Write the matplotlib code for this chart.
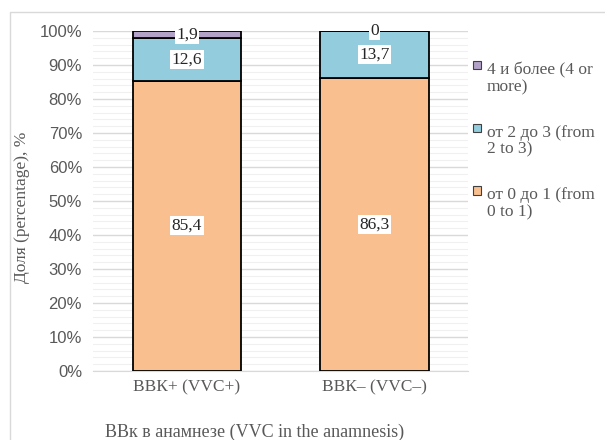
import matplotlib.pyplot as plt
from matplotlib.patches import Rectangle
from matplotlib.ticker import MultipleLocator, PercentFormatter

plt.rcParams['font.family'] = ['Liberation Serif', 'DejaVu Serif']

groups = ["ВВК+ (VVC+)", "ВВК– (VVC–)"]
low = [85.4, 86.3]     # от 0 до 1
mid = [12.6, 13.7]     # от 2 до 3
high = [1.9, 0.0]      # 4 и более
labels = ["от 0 до 1 (from\n0 to 1)", "от 2 до 3 (from\n2 to 3)", "4 и более (4 or\nmore)"]
colors = ["#F9BF8F", "#93CDDD", "#B3A2C7"]

fig = plt.figure(figsize=(6.05, 4.4), dpi=100)
ax = fig.add_axes([0.154, 0.157, 0.62, 0.7725])

# frame around the whole chart
fig.patches.append(Rectangle((0.017, -0.01), 1.0, 0.983, transform=fig.transFigure,
                             fill=False, edgecolor="#d9d9d9", lw=1))

x = range(len(groups))
w = 0.58
series = [low, mid, high]
bottom = [0, 0]
for vals, col in zip(series, colors):
    ax.bar(x, vals, w, bottom=bottom, color=col, edgecolor="black", lw=1.3, zorder=3)
    for xi, v, bt in zip(x, vals, bottom):
        ax.text(xi, bt + v / 2, f"{v:g}".replace(".", ","), ha="center", va="center",
                fontsize=12.5, color="#262626", zorder=5,
                bbox=dict(facecolor="white", edgecolor="none", pad=1))
    bottom = [bt + v for bt, v in zip(bottom, vals)]

ax.set_xlim(-0.5, 1.5)
ax.set_ylim(0, 100)
ax.yaxis.set_major_locator(MultipleLocator(10))
ax.yaxis.set_minor_locator(MultipleLocator(2))
ax.yaxis.set_major_formatter(PercentFormatter(decimals=0))
ax.grid(axis="y", which="major", color="#d9d9d9", lw=1, zorder=0)
ax.grid(axis="y", which="minor", color="#f0f0f0", lw=0.8, zorder=0)
for s in ["top", "right", "left"]:
    ax.spines[s].set_visible(False)
ax.spines["bottom"].set_color("#d9d9d9")
ax.tick_params(axis="both", which="both", length=0, colors="#595959")
ax.tick_params(axis="x", labelsize=12.5, pad=6)
ax.tick_params(axis="y", pad=8)
ax.set_xticks(list(x))
ax.set_xticklabels(groups)
for t in ax.get_yticklabels():
    t.set_fontfamily(["Liberation Sans", "DejaVu Sans"])
    t.set_fontsize(12)

ax.set_ylabel("Доля (percentage), %", fontsize=12.5, color="#595959")
ax.yaxis.set_label_coords(-0.168, 0.482)
fig.text(0.174, 0.018, "ВВк в анамнезе (VVC in the anamnesis)", fontsize=13,
         color="#595959", va="center")

# legend, drawn to the right of the plot (top entry = last series)
leg_y = [0.89, 0.705, 0.522]
for col, lab, ly in zip(colors[::-1], labels[::-1], leg_y):
    ax.add_patch(Rectangle((1.013, ly - 0.003), 0.021, 0.024, transform=ax.transAxes,
                           facecolor=col, edgecolor="#404040", lw=0.8, clip_on=False))
    ax.text(1.05, ly + 0.018, lab, transform=ax.transAxes, ha="left", va="top",
            fontsize=12.5, color="#595959", linespacing=1.05)

fig.savefig("out.png", dpi=100)
